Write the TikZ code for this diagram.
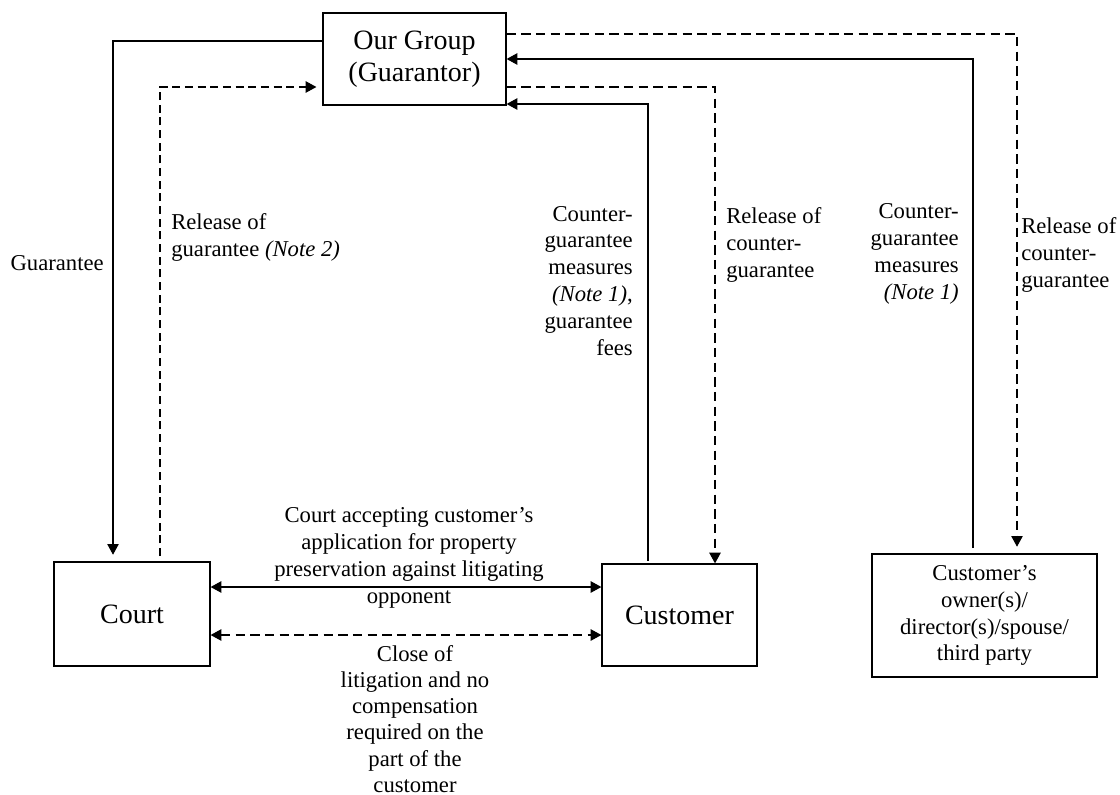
\documentclass[tikz,border=0pt]{standalone}
\usepackage{fontspec}
\setmainfont{Liberation Serif}
\usetikzlibrary{arrows.meta}
\tikzset{
  box/.style={draw, line width=0.9pt, inner sep=0pt, align=center, font=\fontsize{21}{24}\selectfont},
  lbl/.style={inner sep=0pt, font=\fontsize{17}{20.2}\selectfont},
  conn/.style={line width=0.9pt, -{Triangle[length=8pt,width=8.5pt]}},
  dconn/.style={conn, dash pattern=on 7pt off 4pt},
  both/.style={line width=0.9pt, {Triangle[length=8pt,width=8.5pt]}-{Triangle[length=8pt,width=8.5pt]}}
}
\begin{document}
\begin{tikzpicture}[x=0.75pt,y=-0.75pt]
\useasboundingbox (0,0) rectangle (1120,795);
% boxes
\node[box, minimum width=137.25pt, minimum height=69pt] (og) at (414.5,59) {Our Group\\(Guarantor)};
\node[box, minimum width=117pt, minimum height=78pt] (court) at (132,614) {Court};
\node[box, minimum width=116.25pt, minimum height=76.5pt] (cust) at (679.5,615) {Customer};
\node[box, minimum width=168.75pt, minimum height=92.25pt, font=\fontsize{17}{20.2}\selectfont] (owner) at (984.5,615.5) {Customer's\\owner(s)/\\director(s)/spouse/\\third party};
% helper coordinates
\coordinate (g1) at (113,41);
\coordinate (r1) at (160,87);
\coordinate (c1) at (648,104);
\coordinate (c2) at (715,87);
\coordinate (o1) at (973,59);
\coordinate (o2) at (1017,34);
\coordinate (m1) at (400,587);
\coordinate (m2) at (400,635);
% connectors
\draw[conn, shorten >=5pt] (og.west |- g1) -- (g1) -- (g1 |- court.north);
\draw[dconn, line width=0.8pt, dash pattern=on 6pt off 3.5pt, shorten <=4pt, shorten >=4.5pt] (r1 |- court.north) -- (r1) -- (og.west |- r1);
\draw[conn, shorten <=2pt] (c1 |- cust.north) -- (c1) -- (og.east |- c1);
\draw[dconn] (og.east |- c2) -- (c2) -- (c2 |- cust.north);
\draw[conn, shorten <=4pt] (o1 |- owner.north) -- (o1) -- (og.east |- o1);
\draw[dconn, shorten >=5pt] (og.east |- o2) -- (o2) -- (o2 |- owner.north);
\draw[both] (court.east |- m1) -- (cust.west |- m1);
\draw[both, dash pattern=on 7pt off 4pt] (court.east |- m2) -- (cust.west |- m2);
% labels
\node[lbl, anchor=east, align=right] (lg) at (104,263) {Guarantee};
\node[lbl, anchor=west, align=left] (lrg) at (171,237) {Release of\\guarantee \textit{(Note 2)}};
\node[lbl, anchor=east, align=right] (lcg) at (633,281) {Counter-\\guarantee\\measures\\\textit{(Note 1)},\\guarantee\\fees};
\node[lbl, anchor=west, align=left] (lrc) at (726,245) {Release of\\counter-\\guarantee};
\node[lbl, anchor=east, align=right] (lcg2) at (959,254) {Counter-\\guarantee\\measures\\\textit{(Note 1)}};
\node[lbl, anchor=west, align=left] (lrc2) at (1021,255) {Release of\\counter-\\guarantee};
\node[lbl, align=center] (lca) at (409,557.5) {Court accepting customer's\\application for property\\preservation against litigating\\opponent};
\node[lbl, align=center, font=\fontsize{17}{19.6}\selectfont] (lcl) at (415,719) {Close of\\litigation and no\\compensation\\required on the\\part of the\\customer};
\end{tikzpicture}
\end{document}
